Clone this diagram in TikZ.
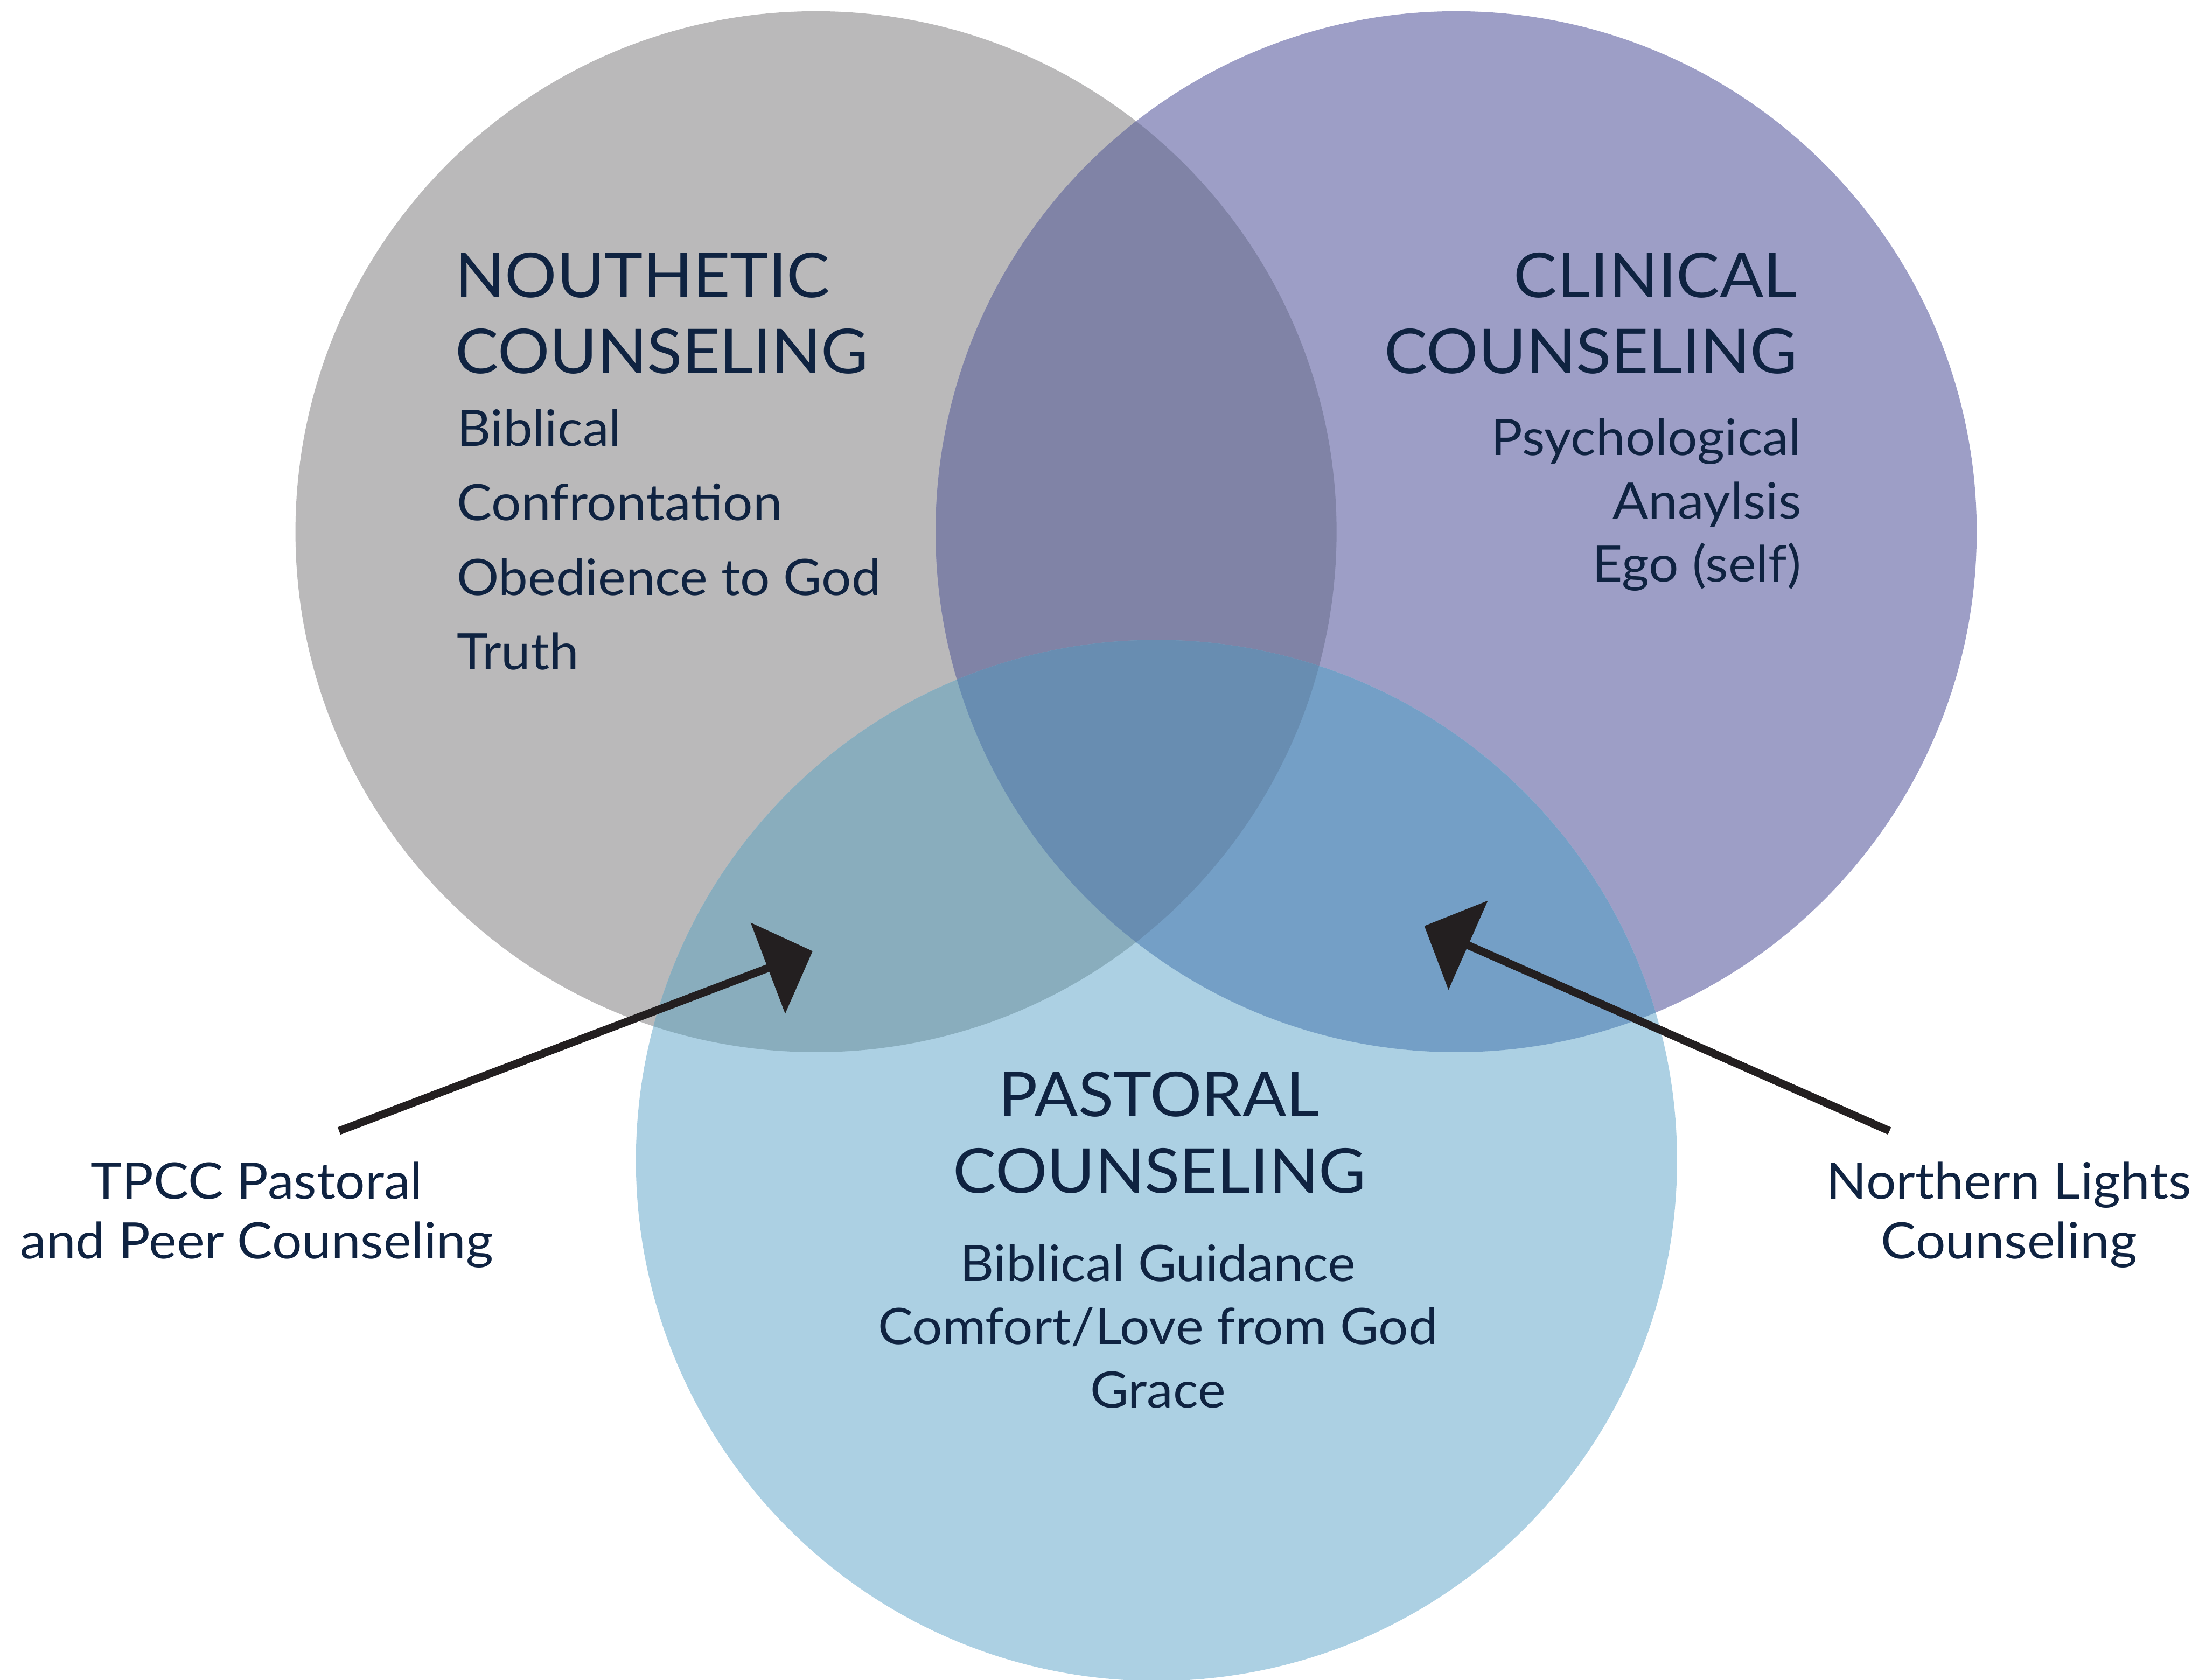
\documentclass[tikz,border=0pt]{standalone}
\usepackage{fontspec}
\setmainfont{Lato}[FakeStretch=1.05]
\usetikzlibrary{arrows.meta}

\definecolor{navy}{HTML}{0F2341}
\definecolor{arrowblack}{HTML}{231F20}
\definecolor{noutheticgray}{HTML}{BAB9BA}
\definecolor{clinicalpurple}{HTML}{9D9EC6}
\definecolor{pastoralblue}{HTML}{ACD0E3}
\definecolor{grayxpurple}{HTML}{8083A6}
\definecolor{grayxblue}{HTML}{89ADBD}
\definecolor{purplexblue}{HTML}{749FC6}
\definecolor{allthree}{HTML}{688DB1}

\begin{document}
\begin{tikzpicture}[font=\fontsize{10.15pt}{12.8pt}\selectfont]
      \tikzstyle{heading}=[inner sep=0, text=navy, font=\fontsize{12.5pt}{15.4pt}\selectfont]
      \tikzstyle{itemlist}=[inner sep=0, text=navy]
      \tikzstyle{pointer}=[draw=arrowblack, line width=1.6pt, -{Triangle[length=3.4mm, width=6.8mm]}]
      \useasboundingbox (0,0) rectangle (15.68,11.94);

      \coordinate (nouthetic) at (5.80,8.16);
      \coordinate (clinical) at (10.35,8.16);
      \coordinate (pastoral) at (8.22,3.69);

      % the three circles
      \fill[noutheticgray] (nouthetic) circle (3.7);
      \fill[clinicalpurple] (clinical) circle (3.7);
      \fill[pastoralblue] (pastoral) circle (3.7);
      % overlaps
      \begin{scope}
       \clip (nouthetic) circle (3.7);
       \fill[grayxpurple] (clinical) circle (3.7);
       \fill[grayxblue] (pastoral) circle (3.7);
      \end{scope}
      \begin{scope}
       \clip (clinical) circle (3.7);
       \fill[purplexblue] (pastoral) circle (3.7);
       \clip (pastoral) circle (3.7);
       \fill[allthree] (nouthetic) circle (3.7);
      \end{scope}

      % labels inside
      \node[heading, align=left, anchor=base west] (nouthead) at (3.23,9.285) {NOUTHETIC\\COUNSELING};
      \node[itemlist, align=left, anchor=base west, font=\fontsize{10.15pt}{15.1pt}\selectfont] (noutlist) at (3.24,7.178)
       {Biblical\\Confrontation\\Obedience to God\\Truth};
      \node[heading, align=right, anchor=base east] (clinhead) at (12.78,9.285) {CLINICAL\\COUNSELING};
      \node[itemlist, align=right, anchor=base east] (clinlist) at (12.81,7.803)
       {Psychological\\Anaylsis\\Ego (self)};
      \node[heading, align=center, anchor=base] (pasthead) at (8.24,3.46) {PASTORAL\\COUNSELING};
      \node[itemlist, align=center, anchor=base] (pastlist) at (8.23,1.933)
       {Biblical Guidance\\Comfort/Love from God\\Grace};

      % outside labels and pointers
      \node[itemlist, align=center, anchor=base, font=\fontsize{10.15pt}{12.1pt}\selectfont] (tpcc) at (1.825,2.99)
       {TPCC Pastoral\\and Peer Counseling};
      \node[itemlist, align=center, anchor=base, font=\fontsize{10.15pt}{12.1pt}\selectfont] (northern) at (14.28,2.99)
       {Northern Lights\\Counseling};
      \coordinate (tpcc end) at (2.41,3.90);
      \coordinate (tpcc tip) at (5.776,5.178);
      \coordinate (northern end) at (13.43,3.90);
      \coordinate (northern tip) at (10.124,5.357);
      \draw[pointer] (tpcc end) -- (tpcc tip);
      \draw[pointer] (northern end) -- (northern tip);
\end{tikzpicture}
\end{document}
